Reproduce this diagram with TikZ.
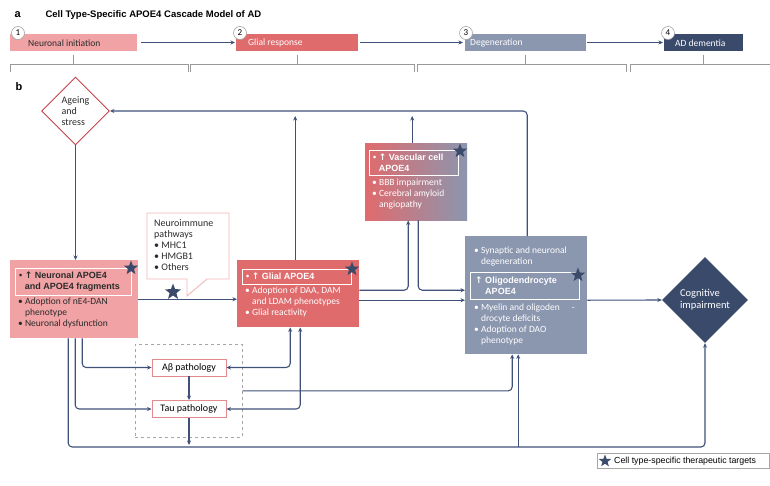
\documentclass[tikz,border=0pt]{standalone}
\usepackage{fontspec}
\setmainfont{Carlito}
\newfontfamily\headfont{Liberation Sans}
\newfontfamily\symfont{DejaVu Sans}
\usetikzlibrary{shapes.geometric}
\usetikzlibrary{arrows.meta}

\definecolor{navy}{HTML}{3A4A6B}
\definecolor{linecol}{HTML}{3F5179}
\definecolor{pinkbox}{HTML}{F0A2A4}
\definecolor{redbox}{HTML}{E06B6D}
\definecolor{greybox}{HTML}{8B96AF}
\definecolor{ageingred}{HTML}{C9424B}
\definecolor{calloutpink}{HTML}{F3B6B8}
\definecolor{pathpink}{HTML}{E38A8E}
\definecolor{darktext}{HTML}{2B2B2B}

\newcommand{\up}{{\symfont ↑}}
\newcommand{\bl}{\textbullet\ }
\newcommand{\ind}{\phantom{\textbullet\ }}

\begin{document}
\begin{tikzpicture}[x=1pt,y=-1pt,>={Stealth[length=4.5pt,width=4pt]},
    flow/.style={draw=linecol,line width=1.1pt,rounded corners=4pt,->},
    both/.style={draw=linecol,line width=1.1pt,rounded corners=4pt,<->},
    stage/.style={rectangle,minimum height=17pt,inner sep=0pt,anchor=west},
    stagetxt/.style={anchor=west,inner sep=0pt,font=\fontsize{9.5}{10}\selectfont},
    num/.style={circle,draw=gray!70,fill=white,line width=0.6pt,minimum size=13pt,inner sep=0pt,font=\fontsize{9}{9}\selectfont},
    bracket/.style={draw=gray!80,line width=0.7pt},
    cellbox/.style={rectangle,inner sep=0pt,anchor=north west},
    headbox/.style={rectangle,draw=white,line width=0.9pt,inner sep=0pt,anchor=north west},
    headtxt/.style={font=\headfont\bfseries\fontsize{9}{11.5}\selectfont,align=left,anchor=west,inner sep=0pt},
    bodytxt/.style={font=\fontsize{9.5}{11}\selectfont,align=left,anchor=north west,inner sep=0pt},
    target/.style={star,star points=5,star point ratio=2.4,fill=navy,inner sep=0pt,minimum size=15pt},
    pathbox/.style={rectangle,draw=pathpink,line width=0.9pt,fill=white,minimum width=74pt,minimum height=17pt,font=\fontsize{10}{10}\selectfont}
  ]

  \useasboundingbox (0,0) rectangle (770,485);

  %% panel a
  \node (alabel) [anchor=west,font=\headfont\bfseries\fontsize{11}{11}\selectfont] at (11,15) {a};
  \node (title) [anchor=west,font=\headfont\bfseries\fontsize{9.5}{10}\selectfont] at (42,15) {Cell Type-Specific APOE4 Cascade Model of AD};

  \path (10,42.5)  node (s1) [stage,fill=pinkbox,minimum width=127pt] {}
        (236,42.5) node (s2) [stage,fill=redbox,minimum width=122pt] {}
        (465,42.5) node (s3) [stage,fill=greybox,minimum width=121pt] {}
        (664,42.5) node (s4) [stage,fill=navy,minimum width=79pt] {};

  \node (s1txt) [stagetxt,text=darktext] at (28,43) {Neuronal initiation};
  \node (s2txt) [stagetxt,text=white] at (248,43) {Glial response};
  \node (s3txt) [stagetxt,text=white] at (470,43) {Degeneration};
  \node (s4txt) [stagetxt,text=white] at (675,43) {AD dementia};

  \path (18,33)  node (c1) [num] {1}
        (240,33) node (c2) [num] {2}
        (466,33) node (c3) [num] {3}
        (668,33) node (c4) [num] {4};

  \draw[flow,shorten <=4pt,shorten >=1pt] (s1) -- (s2);
  \draw[flow,shorten <=2pt,shorten >=2pt] (s2) -- (s3);
  \draw[flow,shorten <=1pt,shorten >=1pt] (s3) -- (s4);

  \foreach \l/\r/\m in {10/188/73.5, 190/414/297, 417/626/525.5, 630/790/703.5}
    \draw[bracket] (\l,72) -- (\l,64) -- (\r,64) -- (\r,72) (\m,55) -- (\m,64);

  %% panel b
  \node (blabel) [anchor=west,font=\headfont\bfseries\fontsize{11}{11}\selectfont] at (12,87) {b};

  \node (ageing) [diamond,draw=ageingred,line width=0.9pt,fill=white,minimum width=68pt,minimum height=68pt,aspect=1,inner sep=0pt,align=left,text=darktext,font=\fontsize{10}{11}\selectfont] at (75.5,111) {Ageing\\and\\stress};

  % neuronal
  \node (neuro) [cellbox,fill=pinkbox,minimum width=128pt,minimum height=78pt] at (10,260) {};
  \node (neurohead) [headbox,minimum width=116pt,minimum height=27pt] at (15,268) {};
  \node (neuroheadtxt) [headtxt,text=darktext] at (19,281.5) {\textbullet\ \up\ Neuronal APOE4\\\ind and APOE4 fragments};
  \node (neurobody) [bodytxt,text=darktext] at (18,298) {\bl Adoption of nE4-DAN\\\ind phenotype\\\bl Neuronal dysfunction};
  \node (neurostar) [target] at (131,268) {};

  % callout
  \draw[draw=calloutpink,line width=0.9pt,fill=white] (147,213) -- (229,213) -- (229,279) -- (207,279) -- (187,296) -- (187,279) -- (147,279) -- cycle;
  \node (neuroimm) [bodytxt,text=darktext,font=\fontsize{10}{11}\selectfont] at (154,219) {Neuroimmune\\pathways\\\bl MHC1\\\bl HMGB1\\\bl Others};
  \node (immstar) [target,minimum size=17pt] at (173,292) {};

  % glial
  \node (glial) [cellbox,fill=redbox,minimum width=122pt,minimum height=67pt] at (237,260) {};
  \node (glialhead) [headbox,minimum width=109pt,minimum height=15pt] at (242,269) {};
  \node (glialheadtxt) [headtxt,text=white] at (246,276.5) {\textbullet\ \up\ Glial APOE4};
  \node (glialbody) [bodytxt,text=white] at (245,287) {\bl Adoption of DAA, DAM\\\ind and LDAM phenotypes\\\bl Glial reactivity};
  \node (glialstar) [target] at (352,269) {};

  % vascular
  \node (vasc) [cellbox,left color=redbox,right color=greybox,minimum width=102pt,minimum height=77pt] at (365,143) {};
  \node (vaschead) [headbox,minimum width=89pt,minimum height=25pt] at (369,150) {};
  \node (vascheadtxt) [headtxt,text=white] at (373,162.5) {\textbullet\ \up\ Vascular cell\\\ind APOE4};
  \node (vascbody) [bodytxt,text=white] at (372,179) {\bl BBB impairment\\\bl Cerebral amyloid\\\ind angiopathy};
  \node (vascstar) [target] at (460,151) {};

  % degeneration
  \node (deg) [cellbox,fill=greybox,minimum width=122pt,minimum height=118pt] at (465,236) {};
  \node (degtop) [bodytxt,text=white] at (474,247) {\bl Synaptic and neuronal\\\ind degeneration};
  \node (deghead) [headbox,minimum width=109pt,minimum height=27pt] at (470,272) {};
  \node (degheadtxt) [headtxt,text=white] at (475,285.5) {\up\ Oligodendrocyte\\\phantom{\up}\ APOE4};
  \node (degbody) [bodytxt,text=white] at (474,304) {\bl Myelin and oligoden\hspace{12pt}-\\\ind drocyte deficits\\\bl Adoption of DAO\\\ind phenotype};
  \node (degstar) [target] at (578,275) {};

  % cognitive
  \node (cog) [diamond,fill=navy,minimum width=86pt,minimum height=86pt,aspect=1,inner sep=0pt,text=white,align=left,font=\fontsize{10.5}{12}\selectfont] at (705,300) {Cognitive\\impairment};

  % pathology
  \node (dash) [draw=gray!70,dashed,line width=0.7pt,minimum width=107pt,minimum height=93pt,anchor=north west,inner sep=0pt] at (135,344) {};
  \node (abeta) [pathbox] at (189,367.5) {Aβ pathology};
  \node (tau) [pathbox] at (189,409) {Tau pathology};

  % legend
  \node (legend) [draw=gray!70,line width=0.6pt,anchor=north west,minimum width=172pt,minimum height=15pt,inner sep=0pt] at (597,453) {};
  \node (legstar) [target,minimum size=13pt] at (605,461) {};
  \node (legtxt) [anchor=west,inner sep=0pt,font=\headfont\fontsize{8.8}{9}\selectfont] at (614,461) {Cell type-specific therapeutic targets};

  \coordinate (topgap) at (0,116);
  \coordinate (botline) at (0,447);
  \coordinate (botgap) at (0,445);

  %% connectors
  \draw[flow] (ageing.south) -- (ageing.south |- neuro.north);
  \draw[flow] ([xshift=1pt]deg.north) |- (ageing.east);
  \draw[flow] ([xshift=-3pt]glial.north) -- ([xshift=-3pt]glial.north |- topgap);
  \draw[flow] ([xshift=-4pt]vasc.north) -- ([xshift=-4pt]vasc.north |- topgap);

  \draw[flow] (neuro.east) -- (neuro.east -| glial.west);
  \draw[flow] ([yshift=3.5pt]glial.east) -| ([xshift=-8pt]vasc.south);
  \draw[flow] ([xshift=2pt]vasc.south) |- ([yshift=5pt]deg.west);
  \draw[flow] ([yshift=-6.5pt]glial.east) -- ([yshift=-6.5pt]glial.east -| deg.west);
  \draw[flow] ([yshift=-5pt]deg.east) -- (cog.west);

  \draw[flow] ([xshift=8pt]neuro.south) |- (abeta.west);
  \draw[flow] ([xshift=1pt]neuro.south) |- (tau.west);
  \draw[flow] ([xshift=-6pt]neuro.south) |- (cog.south |- botline) -- (cog.south);
  \draw[flow] (abeta) -- (tau);
  \draw[flow] (tau.south) -- (tau.south |- botgap);
  \draw[both] ([xshift=-8pt]glial.south) |- (abeta.east);
  \draw[both] ([xshift=2pt]glial.south) |- (tau.east);
  \draw[flow] (dash.east) -| ([xshift=-14pt]deg.south);
  \draw[flow] ([xshift=-8pt]deg.south |- botline) -- ([xshift=-8pt]deg.south);

\end{tikzpicture}
\end{document}
